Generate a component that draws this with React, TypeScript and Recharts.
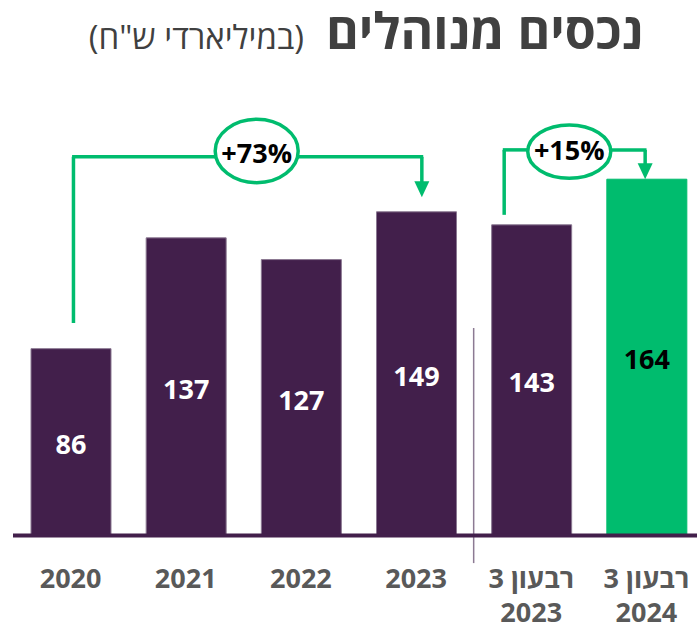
import React from 'react';
import { BarChart, Bar, XAxis, YAxis, Cell, LabelList, ReferenceLine, ReferenceDot } from 'recharts';

// ---- data ----
const categories = ['2020', '2021', '2022', '2023', 'רבעון 3\n2023', 'רבעון 3\n2024'];
const values = [86, 137, 127, 149, 143, 164];
const highlightIndex = 5;
const growthLabels = ['+73%', '+15%'];
const title = 'נכסים מנוהלים';
const subtitle = '(במיליארדי ש"ח)';

const data = categories.map((c, i) => ({ category: c, value: values[i], pos: i + 0.5 }));

// ---- styles ----
const PURPLE = '#421f4b';
const GREEN = '#00bc6e';
const FONT = '"Open Sans", "Liberation Sans", "DejaVu Sans", sans-serif';

// annotation anchors in data units (x on hidden numeric axis 0..6, y in value units)
const bracket73 = { x0: 0.525, yStart: 97.8, yTop: 174.3, gapL: 1.756, gapR: 2.477, x1: 3.55, arrowBase: 161, arrowTip: 155.7, bx: 2.116, by: 177.0 };
const bracket15 = { x0: 4.265, yStart: 147.6, yTop: 177.5, gapL: 4.469, gapR: 5.19, x1: 5.489, arrowBase: 170, arrowTip: 164.0, bx: 4.83, by: 176.7 };

const ValueLabel = (props: any) => {
  const { x, y, width, height, value, index } = props;
  const isHi = index === highlightIndex || (index === undefined && value === values[highlightIndex]);
  return (
    <text
      x={Number(x) + Number(width) / 2}
      y={Number(y) + Number(height) / 2 + 12}
      textAnchor="middle"
      fill={isHi ? '#000000' : '#ffffff'}
      fontFamily={FONT}
      fontWeight={700}
      fontSize={27}
    >
      {value}
    </text>
  );
};

const CategoryTick = (props: any) => {
  const { x, y, payload } = props;
  const lines = String(payload.value).split('\n');
  return (
    <text
      x={x}
      y={y}
      textAnchor="middle"
      direction="rtl"
      fill="#595959"
      fontFamily={FONT}
      fontWeight={700}
      fontSize={27}
    >
      {lines.map((l, i) => (
        <tspan key={i} x={x} dy={i === 0 ? 52.5 : 34}>
          {l}
        </tspan>
      ))}
    </text>
  );
};

const makeBubble = (label: string, rx: number, ry: number, textDy: number) => (p: any) => (
  <g>
    <ellipse cx={p.cx} cy={p.cy} rx={rx} ry={ry} fill="#ffffff" stroke={GREEN} strokeWidth={3.5} />
    <text x={p.cx} y={p.cy + textDy} textAnchor="middle" fill="#000000" fontFamily={FONT} fontWeight={700} fontSize={27}>
      {label}
    </text>
  </g>
);

const ArrowHead = (p: any) => (
  <polygon points={`${p.cx - 7.5},${p.cy - 16} ${p.cx + 7.5},${p.cy - 16} ${p.cx},${p.cy}`} fill={GREEN} />
);

const lineProps = { xAxisId: 'n', stroke: GREEN, strokeWidth: 3.5, ifOverflow: 'visible' as const };

const bracketLines = (b: typeof bracket73, key: string) => [
  <ReferenceLine key={key + 'v'} {...lineProps} segment={[{ x: b.x0, y: b.yStart }, { x: b.x0, y: b.yTop }]} />,
  <ReferenceLine key={key + 'h1'} {...lineProps} segment={[{ x: b.x0 - 0.012, y: b.yTop }, { x: b.gapL, y: b.yTop }]} />,
  <ReferenceLine key={key + 'h2'} {...lineProps} segment={[{ x: b.gapR, y: b.yTop }, { x: b.x1 + 0.012, y: b.yTop }]} />,
  <ReferenceLine key={key + 'd'} {...lineProps} segment={[{ x: b.x1, y: b.yTop }, { x: b.x1, y: b.arrowBase }]} />,
];

export default function App() {
  return (
    <div style={{ position: 'absolute', left: 0, top: 0, width: 697, height: 627, overflow: 'hidden', background: '#ffffff' }}>
      <div
        dir="rtl"
        style={{ position: 'absolute', right: 54, top: 5, fontFamily: FONT, fontSize: 50, fontWeight: 700, color: '#404040', lineHeight: 1, whiteSpace: 'nowrap' }}
      >
        {title}
      </div>
      <div
        dir="rtl"
        style={{ position: 'absolute', right: 393, top: 20, fontFamily: FONT, fontSize: 33, fontWeight: 400, color: '#404040', lineHeight: 1, whiteSpace: 'nowrap' }}
      >
        {subtitle}
      </div>
      <div style={{ position: 'absolute', left: 0, top: 0 }}>
        <BarChart width={704} height={627} data={data} margin={{ top: 101, right: 0, bottom: 11.5, left: 13 }}>
          <XAxis
            dataKey="category"
            height={80}
            tickLine={false}
            tickSize={0}
            tickMargin={0}
            axisLine={{ stroke: PURPLE, strokeWidth: 4 }}
            tick={<CategoryTick />}
            interval={0}
          />
          <XAxis xAxisId="n" type="number" dataKey="pos" domain={[0, 6]} allowDataOverflow hide />
          <YAxis hide domain={[0, 200]} allowDataOverflow />
          <Bar dataKey="value" barSize={80} isAnimationActive={false}>
            {data.map((d, i) => (
              <Cell
                key={d.category}
                fill={i === highlightIndex ? GREEN : PURPLE}
                stroke={i === highlightIndex ? GREEN : '#8a7891'}
                strokeWidth={1}
              />
            ))}
            <LabelList dataKey="value" content={<ValueLabel />} />
          </Bar>
          <ReferenceLine
            xAxisId="n"
            stroke="#8c7a93"
            strokeWidth={1.5}
            ifOverflow="visible"
            segment={[{ x: 4, y: 95.5 }, { x: 4, y: -12.7 }]}
          />
          {bracketLines(bracket73, 'a')}
          {bracketLines(bracket15, 'b')}
          <ReferenceDot xAxisId="n" x={bracket73.x1} y={bracket73.arrowTip} r={8} ifOverflow="visible" shape={ArrowHead} />
          <ReferenceDot xAxisId="n" x={bracket15.x1} y={bracket15.arrowTip} r={8} ifOverflow="visible" shape={ArrowHead} />
          <ReferenceDot
            xAxisId="n"
            x={bracket73.bx}
            y={bracket73.by}
            r={30}
            ifOverflow="visible"
            shape={makeBubble(growthLabels[0], 41.5, 31.7, 12)}
          />
          <ReferenceDot
            xAxisId="n"
            x={bracket15.bx}
            y={bracket15.by}
            r={26}
            ifOverflow="visible"
            shape={makeBubble(growthLabels[1], 41.5, 26.7, 8.5)}
          />
        </BarChart>
      </div>
    </div>
  );
}
